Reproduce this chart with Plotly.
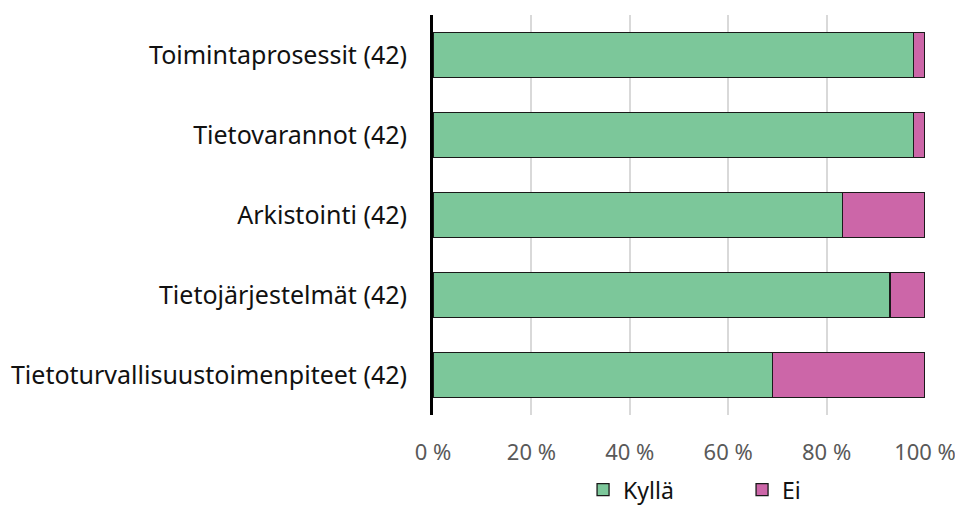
import plotly.graph_objects as go

# categories, top to bottom as in the chart
categories = [
    "Toimintaprosessit (42)",
    "Tietovarannot (42)",
    "Arkistointi (42)",
    "Tietojärjestelmät (42)",
    "Tietoturvallisuustoimenpiteet (42)",
]
# shares in percent
kylla = [97.6, 97.6, 83.3, 92.9, 69.0]
ei = [2.4, 2.4, 16.7, 7.1, 31.0]
x_ticks = [0, 20, 40, 60, 80, 100]
x_labels = ["0 %", "20 %", "40 %", "60 %", "80 %", "100 %"]

font_family = "Noto Sans"

fig = go.Figure()
fig.add_trace(go.Bar(y=categories, x=kylla, name="Kyllä", orientation="h",
                     marker=dict(color="#7CC79A", line=dict(color="#1a1a1a", width=1.3))))
fig.add_trace(go.Bar(y=categories, x=ei, name="Ei", orientation="h",
                     marker=dict(color="#CC66A8", line=dict(color="#1a1a1a", width=1.3))))

# page body adds ~8px offset, so margins are shifted by that
fig.update_layout(
    barmode="stack",
    bargap=0.44,
    width=963, height=508,
    margin=dict(l=425, r=46, t=7, b=101, autoexpand=False),
    plot_bgcolor="white", paper_bgcolor="white",
    font=dict(family=font_family, size=25, color="#111111"),
    legend=dict(orientation="h", traceorder="normal",
                x=0.305, xanchor="left", yref="container", y=0.052, yanchor="middle",
                font=dict(size=23, color="#111111"),
                entrywidthmode="pixels", entrywidth=114),
    showlegend=True,
)
fig.update_xaxes(range=[0, 100], tickmode="array", tickvals=x_ticks, ticktext=x_labels,
                 showgrid=True, gridcolor="#d9d9d9", gridwidth=1.5,
                 zeroline=False, showline=False, automargin=False,
                 ticklabelstandoff=22,
                 tickfont=dict(size=22, color="#595959"))
fig.update_yaxes(autorange="reversed", showline=True, linecolor="black", linewidth=3,
                 showgrid=False, ticks="", ticklabelstandoff=18, automargin=False,
                 tickfont=dict(size=25, color="#111111"))

fig.write_html("out.html")
